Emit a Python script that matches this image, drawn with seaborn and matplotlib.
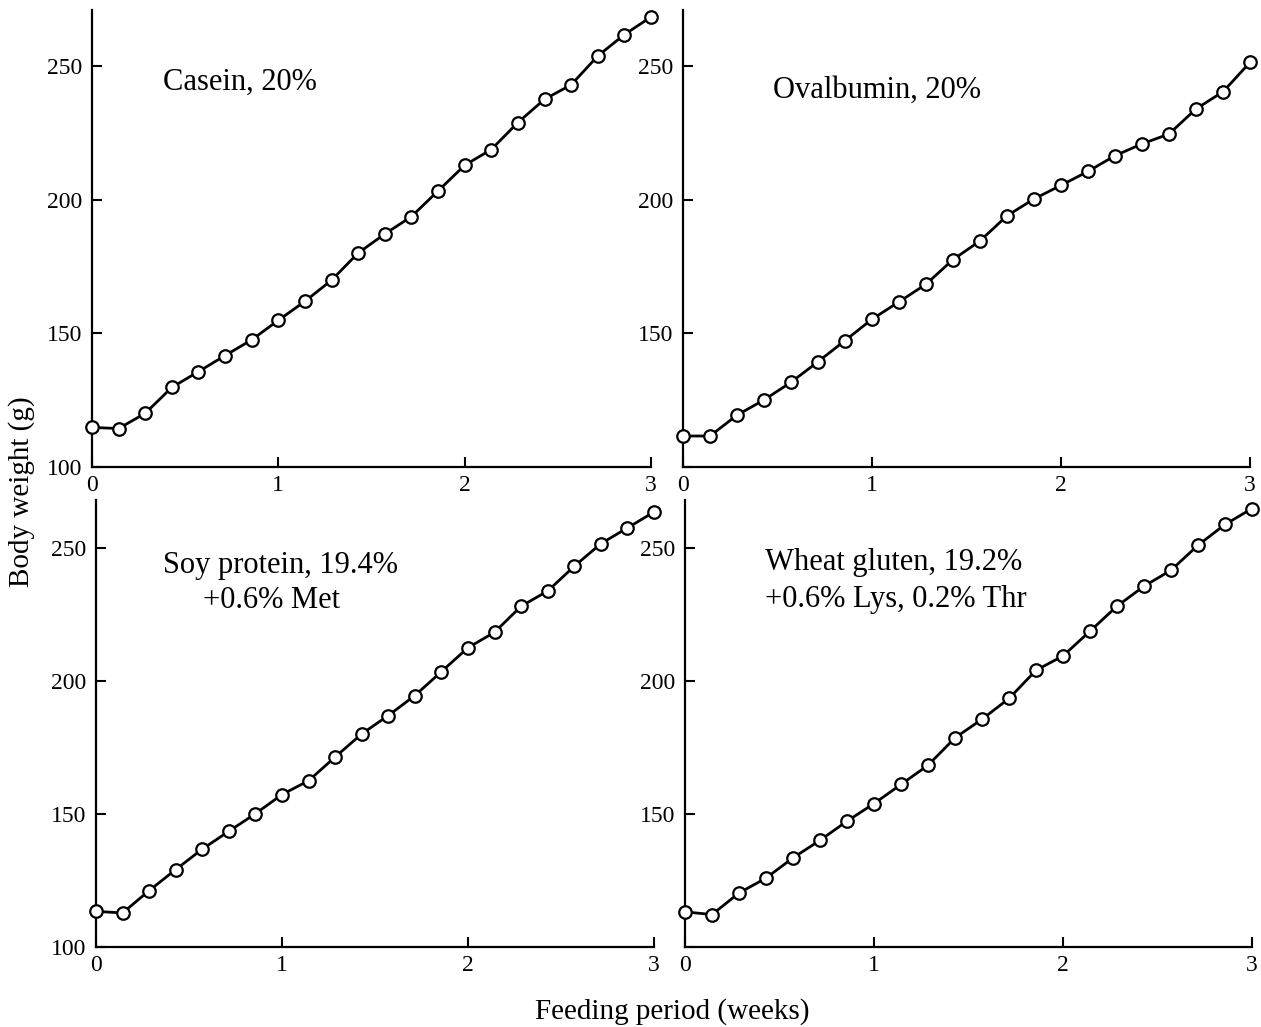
import numpy as np
import pandas as pd
import matplotlib
matplotlib.use("Agg")
import matplotlib.pyplot as plt
import seaborn as sns

# ---- data ----
days = [0, 1, 2, 3, 4, 5, 6, 7, 8, 9, 10, 11, 12, 13, 14, 15, 16, 17, 18, 19, 20, 21]
casein = [114.8, 114.4, 120.1, 129.8, 135.7, 141.7, 147.6, 154.9, 162.0, 169.9, 180.1,
          187.2, 193.7, 203.3, 212.9, 218.8, 228.9, 237.6, 243.0, 253.8, 261.8, 268.4]
ovalbumin = [111.6, 111.6, 119.4, 125.1, 131.7, 139.4, 147.3, 155.3, 161.8, 168.4, 177.6,
             184.6, 194.0, 200.3, 205.4, 210.6, 216.5, 220.9, 224.6, 234.0, 240.4, 251.4]
soy = [113.4, 112.8, 121.2, 129.1, 136.8, 143.5, 150.1, 157.3, 162.5, 171.4, 180.1,
       187.0, 194.5, 203.5, 212.5, 218.3, 228.1, 233.8, 243.1, 251.6, 257.5, 263.5]
wheat = [113.2, 112.2, 120.3, 125.9, 133.5, 140.1, 147.3, 153.9, 161.1, 168.3, 178.6,
         185.6, 193.4, 204.0, 209.4, 218.7, 228.1, 235.6, 241.6, 251.0, 258.8, 264.8]

labels_line1 = ["Casein, 20%", "Ovalbumin, 20%", "Soy protein, 19.4%", "Wheat gluten, 19.2%"]
labels_line2 = ["", "", "+0.6% Met", "+0.6% Lys, 0.2% Thr"]
x_ticks = [0, 1, 2, 3]
y_ticks = [100, 150, 200, 250]
x_label = "Feeding period (weeks)"
y_label = "Body weight (g)"

sns.set_style("ticks")
plt.rcParams["font.family"] = ["Liberation Serif", "DejaVu Serif"]
plt.rcParams["text.color"] = "black"
plt.rcParams["axes.labelcolor"] = "black"

W, H = 1261, 1027
fig = plt.figure(figsize=(W / 100, H / 100), dpi=100)

# panel geometry in pixels: (x0, x3, y_bottom(100), y_top_of_axes, ymax, show_100)
panels = [
    (92, 651, 467, 10, 271, True),
    (683, 1250, 467, 10, 271, False),
    (96, 654, 947, 500, 268, True),
    (685, 1252, 947, 500, 268, False),
]
series = [casein, ovalbumin, soy, wheat]
text_pos = [
    [(0.38, 244.0), None],
    [(0.475, 241.0), None],
    [(0.36, 243.2), (0.575, 230.1)],
    [(0.423, 244.4), (0.423, 230.5)],
]

for i, (x0, x3, yb, yt, ymax, show100) in enumerate(panels):
    ax = fig.add_axes([x0 / W, (H - yb) / H, (x3 - x0) / W, (yb - yt) / H])
    df = pd.DataFrame({"week": [d / 7 for d in days], "weight": series[i]})
    sns.lineplot(data=df, x="week", y="weight", ax=ax, color="black", linewidth=2.0,
                 marker="o", markersize=9, markerfacecolor="white",
                 markeredgecolor="black", markeredgewidth=1.6, clip_on=False, zorder=5)
    ax.set_xlim(0, 3.0)
    ax.set_ylim(100, ymax)
    ax.set_xticks(x_ticks)
    ax.set_yticks(y_ticks)
    ax.set_xticklabels([str(t) for t in x_ticks])
    ax.set_yticklabels([str(t) if (t != 100 or show100) else "" for t in y_ticks])
    ax.set_xlabel("")
    ax.set_ylabel("")
    for s in ["top", "right"]:
        ax.spines[s].set_visible(False)
    for s in ["left", "bottom"]:
        ax.spines[s].set_linewidth(1.6)
        ax.spines[s].set_color("black")
    ax.tick_params(axis="both", direction="in", length=7, width=1.5, labelsize=17,
                   colors="black")
    ax.tick_params(axis="y", pad=7)
    ax.tick_params(axis="x", pad=6)
    l1, l2 = text_pos[i]
    ax.text(l1[0], l1[1], labels_line1[i], fontsize=22, ha="left", va="center")
    if l2 is not None:
        ax.text(l2[0], l2[1], labels_line2[i], fontsize=22, ha="left", va="center")

fig.text(672 / W, 1 - 1012 / H, x_label, fontsize=21, ha="center", va="center")
fig.text(22 / W, 1 - 492 / H, y_label, fontsize=21, ha="center", va="center",
         rotation=90)

fig.savefig("out.png", dpi=100, facecolor="white")
